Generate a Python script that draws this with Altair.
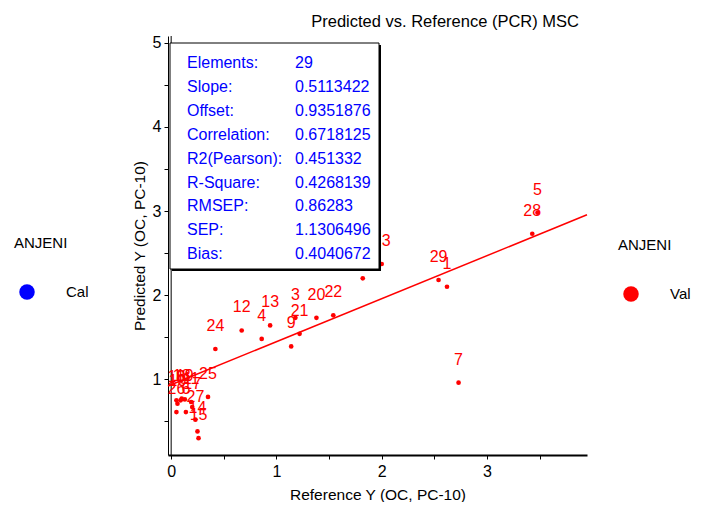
import altair as alt
import pandas as pd

# ---- data ----
sample_ids = list(range(1, 30))
ref_y = [2.62, 1.82, 1.18, 0.86, 3.48, 0.14, 2.73, 0.09, 1.14, 0.06,
         0.19, 0.67, 0.94, 0.25, 0.26, 0.05, 0.20, 0.10, 0.13, 1.38,
         1.22, 1.54, 2.00, 0.42, 0.35, 0.05, 0.23, 3.43, 2.54]
pred_y = [2.10, 2.20, 1.73, 1.48, 2.98, 0.61, 0.96, 0.75, 1.39, 0.71,
          0.73, 1.58, 1.64, 0.38, 0.30, 0.75, 0.67, 0.77, 0.76, 1.73,
          1.54, 1.76, 2.37, 1.36, 0.79, 0.61, 0.52, 2.73, 2.18]

stat_names = ["Elements:", "Slope:", "Offset:", "Correlation:", "R2(Pearson):",
              "R-Square:", "RMSEP:", "SEP:", "Bias:"]
stat_values = ["29", "0.5113422", "0.9351876", "0.6718125", "0.451332",
               "0.4268139", "0.86283", "1.1306496", "0.4040672"]
slope = 0.5113422
offset = 0.9351876

x_domain = [-0.03, 3.95]
y_domain = [0.1, 5.08]
x_ticks = [0, 0.5, 1, 1.5, 2, 2.5, 3, 3.5]
y_ticks = [0.5, 1, 1.5, 2, 2.5, 3, 3.5, 4, 4.5, 5]

FONT = "Liberation Sans"
RED = "#ff0000"
BLUE = "#0000ff"

df = pd.DataFrame({"id": sample_ids, "ref": ref_y, "pred": pred_y, "set": "Val"})
line_df = pd.DataFrame({"ref": x_domain})

xs = alt.Scale(domain=x_domain, nice=False, zero=False)
ys = alt.Scale(domain=y_domain, nice=False, zero=False)

label_expr = "datum.value % 1 == 0 ? format(datum.value, 'd') : ''"

x_enc = alt.X("ref:Q", scale=xs, title="Reference Y (OC, PC-10)",
              axis=alt.Axis(values=x_ticks, labelExpr=label_expr, grid=False,
                            domainWidth=2, tickSize=4, labelPadding=4,
                            titlePadding=8))
y_enc = alt.Y("pred:Q", scale=ys, title="Predicted Y (OC, PC-10)",
              axis=alt.Axis(values=y_ticks, labelExpr=label_expr, grid=False,
                            tickSize=4, labelPadding=3, titlePadding=5))


def legend(x, y):
    return alt.Legend(title="ANJENI", orient="none", legendX=x, legendY=y,
                      symbolType="circle", symbolSize=240, symbolStrokeWidth=0,
                      symbolOpacity=1, symbolOffset=5,
                      labelFontSize=15, titleFontSize=15,
                      titleFontWeight="normal", titlePadding=33,
                      labelOffset=31, labelFont=FONT, titleFont=FONT,
                      labelColor="black", titleColor="black", padding=0)


base = alt.Chart(df)

points = base.mark_circle(size=22, opacity=1).encode(
    x=x_enc, y=y_enc,
    color=alt.Color("set:N", scale=alt.Scale(domain=["Val"], range=[RED]),
                    legend=legend(450, 202)),
)

labels = base.mark_text(color=RED, fontSize=16, font=FONT, dy=-23,
                        baseline="middle", align="center").encode(
    x=alt.X("ref:Q", scale=xs), y=alt.Y("pred:Q", scale=ys), text="id:N")

reg_line = alt.Chart(line_df).transform_calculate(
    pred=f"{offset} + {slope} * datum.ref"
).mark_line(color=RED, strokeWidth=1.5).encode(
    x=alt.X("ref:Q", scale=xs), y=alt.Y("pred:Q", scale=ys))

zero_rule = alt.Chart(pd.DataFrame({"ref": [0]})).mark_rule(
    color="black", strokeWidth=1).encode(x=alt.X("ref:Q", scale=xs))

cal_df = pd.DataFrame({"set": ["Cal"], "ref": [0.0], "pred": [0.0]})
cal_legend = alt.Chart(cal_df).mark_point(opacity=0, filled=True).encode(
    x=alt.X("ref:Q", scale=xs), y=alt.Y("pred:Q", scale=ys),
    fill=alt.Fill("set:N", scale=alt.Scale(domain=["Cal"], range=[BLUE]),
                  legend=legend(-154, 200)),
)

one = alt.Data(values=[{}])
box_shadow = alt.Chart(one).mark_rect(color="black").encode(
    x=alt.value(4), x2=alt.value(213), y=alt.value(9), y2=alt.value(235))
box = alt.Chart(one).mark_rect(fill="white", stroke="black", strokeWidth=1).encode(
    x=alt.value(2), x2=alt.value(211), y=alt.value(7), y2=alt.value(233))
stat_text = alt.Chart(one).mark_text(
    text=stat_names, align="left", baseline="alphabetic", fontSize=16,
    font=FONT, color=BLUE, lineHeight=23.9).encode(x=alt.value(19), y=alt.value(32))
stat_val_text = alt.Chart(one).mark_text(
    text=stat_values, align="left", baseline="alphabetic", fontSize=16,
    font=FONT, color=BLUE, lineHeight=23.9).encode(x=alt.value(127), y=alt.value(32))

chart = alt.layer(
    zero_rule, reg_line, points, labels, cal_legend,
    box_shadow, box, stat_text, stat_val_text
).resolve_scale(color="independent", fill="independent").properties(
    width=419, height=419,
    title=alt.TitleParams("Predicted vs. Reference (PCR) MSC", anchor="end",
                          fontSize=16.5, font=FONT, fontWeight="normal",
                          color="black", offset=4, dx=-112),
    padding={"left": 160, "top": 28, "right": 107, "bottom": 47},
    autosize="none",
).configure_view(stroke=None).configure_axis(
    domainColor="black", tickColor="black", labelColor="black",
    titleColor="black", labelFont=FONT, titleFont=FONT, labelFontSize=16,
    titleFontSize=15.5, titleFontWeight="normal",
)

chart.save("out.html", embed_options={"renderer": "svg", "actions": False})
